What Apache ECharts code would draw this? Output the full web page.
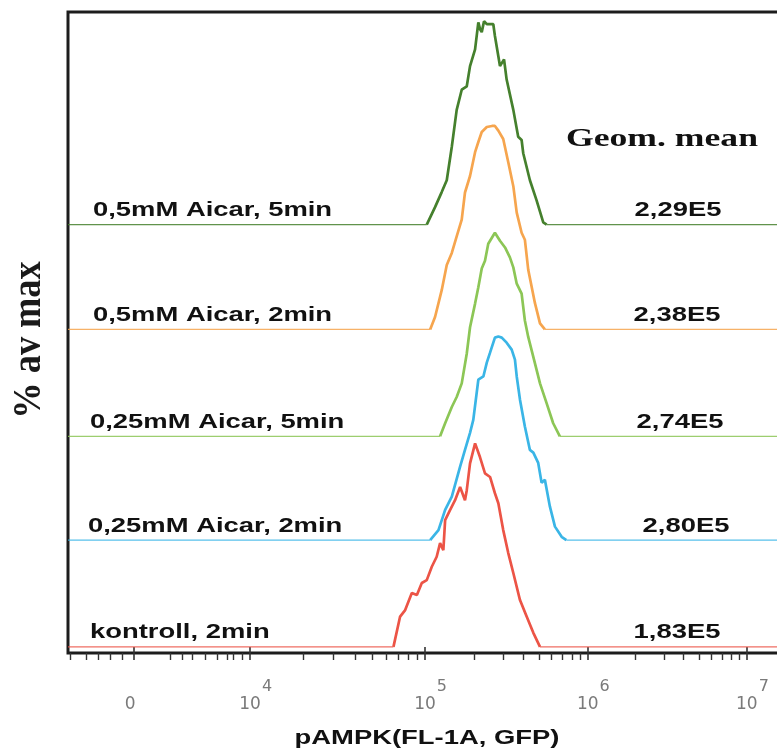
<!DOCTYPE html>
<html>
<head>
<meta charset="utf-8">
<script src="https://cdn.jsdelivr.net/npm/echarts@6/dist/echarts.min.js"></script>
<style>
html,body{margin:0;padding:0;background:#fff;}
#c{width:777px;height:749px;}
</style>
</head>
<body>
<div id="c"></div>
<script>
// ---------------- data ----------------
// samples listed bottom -> top
const sampleNames = ['kontroll, 2min', '0,25mM Aicar, 2min', '0,25mM Aicar, 5min', '0,5mM Aicar, 2min', '0,5mM Aicar, 5min'];
const geomMeans = ['1,83E5', '2,80E5', '2,74E5', '2,38E5', '2,29E5'];

// axis ticks: exponent (null = "0") and its channel on the instrument's display scale (0..1000)
const tickExponents = [null, 4, 5, 6, 7];
const tickChannels = [92, 253, 496, 722, 943];
// minor ticks in the linear / negative region of the display scale (channels)
const linearMinorTicks = [3, 26, 42, 58, 75, 142, 158, 172, 190, 207, 221, 229, 242];

// histograms: [log10(intensity), % of max]
const histKontroll = [[4.819,0],[4.857,14.9],[4.886,18.1],[4.924,26.5],[4.953,25.5],[4.981,31.4],[5.010,32.8],[5.041,39.4],[5.071,44.3],[5.092,51],[5.112,47.5],[5.123,62.3],[5.153,67.2],[5.184,72.1],[5.215,78.6],[5.245,72.1],[5.256,77],[5.276,90.2],[5.307,100],[5.337,93.3],[5.368,85.3],[5.399,83.5],[5.429,75.5],[5.450,70.6],[5.480,57.4],[5.511,46.1],[5.542,36.3],[5.583,23],[5.624,14.9],[5.665,6.9],[5.706,0]];
const hist025_2 = [[5.031,0],[5.082,4.9],[5.123,14.8],[5.164,21.3],[5.215,36.1],[5.245,44.3],[5.276,52.7],[5.296,59.1],[5.327,78.8],[5.358,80.4],[5.379,87.2],[5.399,92.1],[5.429,99.5],[5.450,100],[5.471,99.5],[5.501,97],[5.532,93.6],[5.552,88.7],[5.563,80.4],[5.583,69],[5.613,55.8],[5.644,44.3],[5.665,43],[5.695,37.9],[5.716,28.1],[5.736,29.6],[5.767,16.4],[5.798,6.6],[5.839,1.6],[5.868,0]];
const hist025_5 = [[5.092,0],[5.123,6.4],[5.164,14.4],[5.194,19.3],[5.225,26],[5.256,40.7],[5.276,53.6],[5.307,65.2],[5.327,73.2],[5.348,82.4],[5.368,86.3],[5.388,94.6],[5.429,100],[5.460,96.1],[5.491,92.8],[5.521,87.9],[5.542,83],[5.563,75],[5.593,70.1],[5.613,56.9],[5.634,48.7],[5.675,35.8],[5.706,26],[5.747,16.2],[5.787,6.4],[5.828,0]];
const hist05_2 = [[5.031,0],[5.061,6.1],[5.102,19.3],[5.133,31.7],[5.164,37.6],[5.194,45.7],[5.225,54],[5.245,67.3],[5.276,75.4],[5.307,87.1],[5.327,92.1],[5.348,97],[5.379,99.5],[5.411,100],[5.429,100],[5.450,97.7],[5.480,93.6],[5.511,82.2],[5.542,70.4],[5.563,57.4],[5.593,47.5],[5.613,44.1],[5.634,29.2],[5.675,12.9],[5.706,3],[5.736,0]];
const hist05_5 = [[5.010,0],[5.061,8.6],[5.102,16],[5.133,21.8],[5.164,38.3],[5.194,56.4],[5.225,66.3],[5.256,68],[5.276,77.9],[5.307,86.1],[5.327,99.4],[5.338,96],[5.348,94.6],[5.362,100],[5.379,98.5],[5.419,98.5],[5.429,92.7],[5.450,82.8],[5.460,77.9],[5.485,81.2],[5.501,71.3],[5.542,56.4],[5.572,43.2],[5.593,41.6],[5.603,35.1],[5.644,21.8],[5.685,11.9],[5.726,1.1],[5.747,0]];

const histograms = [histKontroll, hist025_2, hist025_5, hist05_2, hist05_5];

// ---------------- style / layout ----------------
const colors = ['#ec5446', '#3ab5e6', '#8cc656', '#f6a54e', '#45802d'];
const offsets = [0, 52.5, 103.5, 156, 207.5];   // vertical offset of each histogram (units of % of max)
const labelLeft = [90, 88, 90, 93, 93];
const valueCenter = [677, 686, 680, 677, 678];
const STRETCH = 1.37;
const CH_MAX = 1000;

function toChannel(l) {
  const d = Math.floor(l);
  const i = tickExponents.indexOf(d);
  return tickChannels[i] + (l - d) * (tickChannels[i + 1] - tickChannels[i]);
}

const minorTicks = linearMinorTicks.slice();
[4, 5, 6].forEach(d => { for (let m = 2; m <= 9; m++) minorTicks.push(toChannel(d + Math.log10(m))); });

const series = [];
histograms.forEach((h, i) => {
  const off = offsets[i];
  const first = toChannel(h[0][0]);
  const last = toChannel(h[h.length - 1][0]);
  const base = { type: 'line', showSymbol: false, silent: true, xAxisIndex: 0, yAxisIndex: 0,
                 lineStyle: { color: colors[i], width: 1.3, opacity: 0.85 } };
  series.push(Object.assign({}, base, { data: [[0, off], [first, off]] }));
  series.push(Object.assign({}, base, { data: [[last, off], [CH_MAX, off]] }));
  series.push({ type: 'line', showSymbol: false, silent: true, xAxisIndex: 0, yAxisIndex: 0,
    lineStyle: { color: colors[i], width: 2.7 },
    data: h.map(p => [toChannel(p[0]), off + p[1]]) });
});

const chart = echarts.init(document.getElementById('c'), null, { renderer: 'canvas' });

chart.setOption({
  animation: false,
  backgroundColor: '#fff',
  grid: { left: 68, top: 12, width: 720, height: 641, outerBoundsMode: 'none', containLabel: false,
          show: true, borderColor: '#1c1c1c', borderWidth: 3, backgroundColor: 'transparent' },
  xAxis: [
    {
      type: 'value', min: 0, max: CH_MAX, position: 'bottom',
      axisLine: { show: false }, splitLine: { show: false },
      axisTick: { show: true, customValues: tickChannels, length: 13, lineStyle: { color: '#333', width: 1.6 } },
      axisLabel: {
        customValues: tickChannels, margin: 25, color: '#7a7a7a',
        formatter: function (v) {
          const i = tickChannels.indexOf(v);
          const e = tickExponents[i];
          if (e === null) return '{b|0}{q| }';
          return '{p| }{b|10}{s|' + e + '}';
        },
        rich: {
          b: { fontFamily: 'DejaVu Sans', fontSize: 17, color: '#7a7a7a', lineHeight: 54 },
          s: { fontFamily: 'DejaVu Sans', fontSize: 16, color: '#7a7a7a', padding: [0, 0, 36, 1] },
          p: { width: 11, fontSize: 16 },
          q: { width: 8, fontSize: 16 }
        }
      }
    },
    {
      type: 'value', min: 0, max: CH_MAX, position: 'bottom',
      axisLine: { show: false }, splitLine: { show: false }, axisLabel: { show: false },
      axisTick: { show: true, customValues: minorTicks, length: 7, lineStyle: { color: '#333', width: 1.4 } }
    }
  ],
  yAxis: { type: 'value', min: -3, max: 312, show: false },
  series: series
});

// text overlays positioned from the axes
const graphics = [];
const txt = (x, y, text, font, align, extra) => Object.assign({
  type: 'text', x: x, y: y, scaleX: STRETCH, silent: true,
  style: { text: text, font: font, fill: '#111', align: align, verticalAlign: 'middle' }
}, extra || {});

histograms.forEach((h, i) => {
  const yb = chart.convertToPixel({ yAxisIndex: 0 }, offsets[i]);
  graphics.push(txt(labelLeft[i], yb - 14, sampleNames[i], 'bold 20px "Liberation Sans", Arial, sans-serif', 'left'));
  graphics.push(txt(valueCenter[i], yb - 14, geomMeans[i], 'bold 20px "Liberation Sans", Arial, sans-serif', 'center'));
});
graphics.push(txt(662, 139, 'Geom. mean', 'bold 26px "Liberation Serif", "Times New Roman", serif', 'center', {}));
graphics.push(txt(427, 738, 'pAMPK(FL-1A, GFP)', 'bold 20px "Liberation Sans", Arial, sans-serif', 'center'));
graphics.push({
  type: 'text', x: 29, y: 340, rotation: Math.PI / 2, scaleX: 1.21, scaleY: 1.37, silent: true,
  style: { text: '% av max', font: 'bold 30px "Liberation Serif", "Times New Roman", serif', fill: '#1a1a1a', align: 'center', verticalAlign: 'middle' }
});

chart.setOption({ graphic: { elements: graphics } });
</script>
</body>
</html>
